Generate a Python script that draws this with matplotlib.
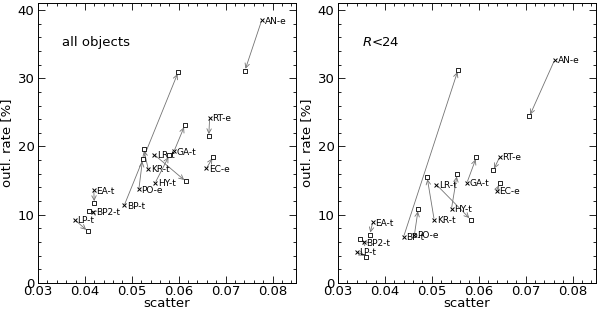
import matplotlib.pyplot as plt
from matplotlib.ticker import MultipleLocator

# survey names
names = ['AN-e', 'RT-e', 'GA-t', 'LR-t', 'EC-e', 'KR-t', 'HY-t',
         'PO-e', 'BP-t', 'EA-t', 'BP2-t', 'LP-t']

# all objects: start (x) and end (square)
all_x0 = [0.0777, 0.0666, 0.0590, 0.0548, 0.0659, 0.0535, 0.0550,
          0.0515, 0.0484, 0.0419, 0.0417, 0.0378]
all_y0 = [38.5, 24.2, 19.3, 18.8, 16.8, 16.7, 14.7,
          13.7, 11.4, 13.6, 10.4, 9.3]
all_x1 = [0.0741, 0.0664, 0.0613, 0.0615, 0.0674, 0.0525, 0.0580,
          0.0523, 0.0599, 0.0420, 0.0409, 0.0406]
all_y1 = [31.1, 21.5, 23.1, 14.9, 18.5, 19.7, 18.7,
          18.1, 30.9, 11.7, 10.6, 7.6]

# R<24
r24_x0 = [0.0762, 0.0645, 0.0575, 0.0510, 0.0638, 0.0505, 0.0542,
          0.0463, 0.0440, 0.0374, 0.0355, 0.0340]
r24_y0 = [32.7, 18.5, 14.7, 14.4, 13.5, 9.3, 10.9,
          7.1, 6.8, 8.9, 6.0, 4.6]
r24_x1 = [0.0708, 0.0631, 0.0595, 0.0583, 0.0645, 0.0490, 0.0554,
          0.0471, 0.0556, 0.0368, 0.0348, 0.0360]
r24_y1 = [24.4, 16.5, 18.4, 9.3, 14.6, 15.5, 15.9,
          10.8, 31.2, 7.1, 6.4, 3.85]

fig = plt.figure(figsize=(6, 3.1), dpi=100)
ax1 = fig.add_axes([0.0633, 0.087, 0.43, 0.903])
ax2 = fig.add_axes([0.5633, 0.087, 0.43, 0.903])


def panel(ax, x0, y0, x1, y1, title):
    for i in range(len(names)):
        ax.annotate('', xy=(x1[i], y1[i]), xytext=(x0[i], y0[i]),
                    arrowprops=dict(arrowstyle='->', color='0.45', lw=0.6,
                                    shrinkA=1, shrinkB=1.5,
                                    mutation_scale=8))
        ax.annotate(names[i], (x0[i], y0[i]), xytext=(2, -2.5),
                    textcoords='offset points', fontsize=6.5)
    ax.scatter(x0, y0, marker='x', s=8, c='k', linewidths=0.7, zorder=3)
    ax.scatter(x1, y1, marker='s', s=8, facecolors='white',
               edgecolors='k', linewidths=0.6, zorder=3)
    ax.text(0.0351, 35.3, title, fontsize=9.5, va='center')

    ax.set_xlim(0.03, 0.085)
    ax.set_ylim(0, 41)
    ax.xaxis.set_major_locator(MultipleLocator(0.01))
    ax.xaxis.set_minor_locator(MultipleLocator(0.002))
    ax.yaxis.set_major_locator(MultipleLocator(10))
    ax.yaxis.set_minor_locator(MultipleLocator(2))
    ax.tick_params(which='both', direction='in', top=True, right=True,
                   labelsize=9.5)
    ax.tick_params(axis='x', pad=1.5)
    ax.tick_params(axis='y', pad=2.5)
    ax.tick_params(which='major', length=5, width=0.6)
    ax.tick_params(which='minor', length=2.5, width=0.6)
    ax.set_xticklabels(['%.2f' % v for v in ax.get_xticks()])
    ax.set_xlabel('scatter', fontsize=9.5, labelpad=-0.5)
    ax.set_ylabel('outl. rate [%]', fontsize=9.5, labelpad=3)
    for s in ax.spines.values():
        s.set_linewidth(0.7)


panel(ax1, all_x0, all_y0, all_x1, all_y1, 'all objects')
panel(ax2, r24_x0, r24_y0, r24_x1, r24_y1, r'$R$<24')

fig.savefig('out.png')
